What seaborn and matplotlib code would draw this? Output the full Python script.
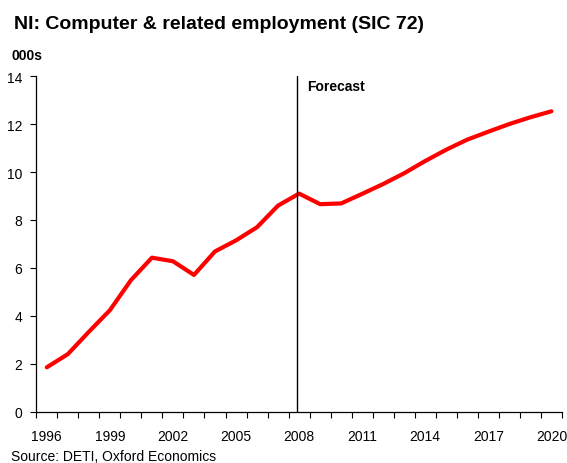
import matplotlib
matplotlib.use("Agg")
import matplotlib.pyplot as plt
from matplotlib.ticker import FixedLocator, MultipleLocator
import seaborn as sns
import pandas as pd

years = list(range(1996, 2021))
employment = [1.86, 2.41, 3.34, 4.24, 5.49, 6.43, 6.28, 5.71, 6.69, 7.15,
              7.70, 8.60, 9.10, 8.66, 8.69, 9.09, 9.50, 9.95, 10.46, 10.93,
              11.35, 11.68, 12.00, 12.28, 12.53]
year_labels = [1996, 1999, 2002, 2005, 2008, 2011, 2014, 2017, 2020]
forecast_start = 2008

sns.set_style("ticks", {"text.color": "black", "xtick.color": "black",
                        "ytick.color": "black", "axes.labelcolor": "black"})
plt.rcParams["font.family"] = ["Liberation Sans", "DejaVu Sans"]

df = pd.DataFrame({"year": years, "employment": employment})

fig = plt.figure(figsize=(5.67, 4.64), dpi=100)
ax = fig.add_axes([0.064, 0.110, 0.927, 0.724])

sns.lineplot(data=df, x="year", y="employment", ax=ax, color="#ff0000",
             linewidth=3.0)

ax.axvline(forecast_start - 0.1, color="black", linewidth=1.0)
ax.text(forecast_start + 0.4, 13.6, "Forecast", fontsize=10, fontweight="bold",
        va="center", ha="left", color="black")

ax.set_xlim(years[0] - 0.5, years[-1] + 0.5)
ax.set_ylim(0, 14)
ax.xaxis.set_major_locator(FixedLocator(year_labels))
ax.xaxis.set_minor_locator(FixedLocator([y + 0.5 for y in range(1995, 2021)]))
ax.yaxis.set_major_locator(MultipleLocator(2))
ax.tick_params(axis="x", which="major", length=0, labelsize=10, pad=12,
               labelcolor="black")
ax.tick_params(axis="x", which="minor", length=4, width=0.8, direction="out",
               color="black")
ax.tick_params(axis="y", length=4, width=0.8, labelsize=10, pad=6,
               labelcolor="black", color="black")
ax.set_xlabel("")
ax.set_ylabel("")

for side in ("top", "right"):
    ax.spines[side].set_visible(False)
for side in ("left", "bottom"):
    ax.spines[side].set_linewidth(0.9)
    ax.spines[side].set_color("black")

fig.text(0.024, 0.947, "NI: Computer & related employment (SIC 72)",
         fontsize=14, fontweight="bold", ha="left", va="center", color="black")
fig.text(0.020, 0.880, "000s", fontsize=10, fontweight="bold",
         ha="left", va="center", color="black")
fig.text(0.020, 0.0, "Source: DETI, Oxford Economics", fontsize=10,
         ha="left", va="bottom", color="black")

fig.savefig("out.png", dpi=100)
